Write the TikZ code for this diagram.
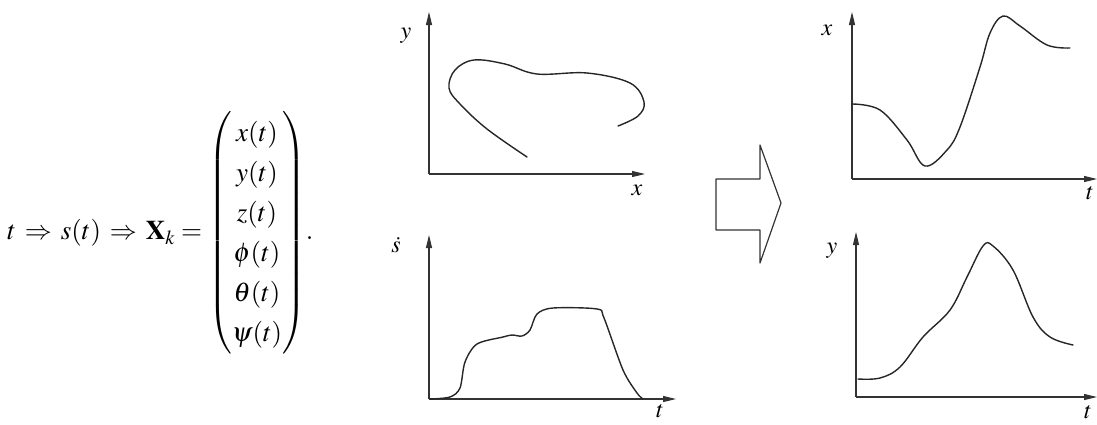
\documentclass[tikz,border=0pt]{standalone}
\usepackage{amsmath}
\usepackage{mathptmx}
\usetikzlibrary{arrows.meta}

\tikzset{
  axis/.style={line width=1.1pt, draw=black!80, -{Triangle[length=13pt,width=6pt]}},
  curve/.style={line width=1.4pt, draw=black!85, line cap=round},
  lbl/.style={inner sep=0pt, font=\fontsize{24}{28}\selectfont},
  eqn/.style={inner sep=0pt, font=\fontsize{27}{32}\selectfont},
}

\begin{document}
\begin{tikzpicture}[x=1pt, y=-1pt, line join=round]

  %% ---- equation ----
  \node[eqn, anchor=west] (eq) at (7,233)
    {$t\,\Rightarrow\, s(t)\,\Rightarrow\, \mathbf{X}_k=
      {\renewcommand{\arraystretch}{1.25}\begin{pmatrix} x(t)\\ y(t)\\ z(t)\\ \phi(t)\\ \theta(t)\\ \psi(t)\end{pmatrix}}.$};

  %% ---- path y(x) ----
  \coordinate (o1) at (429,174);
  \draw[axis] (o1) -- (429,12);
  \draw[axis] (o1) -- (645,174);
  \node[lbl] (ly1) at (406,36) {$y$};
  \node[lbl] (lx1) at (637,190) {$x$};
  \draw[curve] plot[smooth, tension=0.6] coordinates {(527,157) (487,129) (460,104) (449,88) (455,70) (474,60) (505,64) (537,74) (587,73) (630,83) (644,102) (638,116) (618,126)};

  %% ---- speed s-dot(t) ----
  \coordinate (o2) at (429,399);
  \draw[axis] (o2) -- (429,235);
  \draw[axis] (o2) -- (676,399);
  \node[lbl] (ls2) at (396,245) {$\dot s$};
  \node[lbl] (lt2) at (660,411) {$t$};
  \draw[curve] plot[smooth, tension=0.5] coordinates {(430,399) (450,397) (460,388) (465,362) (477,344) (503,337) (512,335) (522,336) (530,330) (537,314) (553,308) (597,309) (604,318) (623,370) (637,393) (643,399)};

  %% ---- big arrow ----
  \draw[line width=1.2pt, draw=black!80] (716,179) -- (760,179) -- (760,145) -- (781,203) -- (760,263) -- (760,230) -- (716,230) -- cycle;

  %% ---- x(t) ----
  \coordinate (o3) at (852,179);
  \draw[axis] (o3) -- (852,12);
  \draw[axis] (o3) -- (1097,179);
  \node[lbl] (lx3) at (827,30) {$x$};
  \node[lbl] (lt3) at (1090,193) {$t$};
  \draw[curve] plot[smooth, tension=0.6] coordinates {(852,104) (880,110) (907,140) (925,166) (947,150) (960,127) (980,67) (990,33) (1003,16) (1020,26) (1047,45) (1070,48)};

  %% ---- y(t) ----
  \coordinate (o4) at (856,397);
  \draw[axis] (o4) -- (856,232);
  \draw[axis] (o4) -- (1097,397);
  \node[lbl] (ly4) at (832,251) {$y$};
  \node[lbl] (lt4) at (1088,412) {$t$};
  \draw[curve] plot[smooth, tension=0.6] coordinates {(858,379) (880,378) (900,367) (923,337) (950,310) (967,277) (983,246) (993,246) (1013,270) (1033,317) (1050,337) (1073,345)};

  \pgfresetboundingbox
  \path[use as bounding box] (0,0) rectangle (1097,424);
\end{tikzpicture}
\end{document}
